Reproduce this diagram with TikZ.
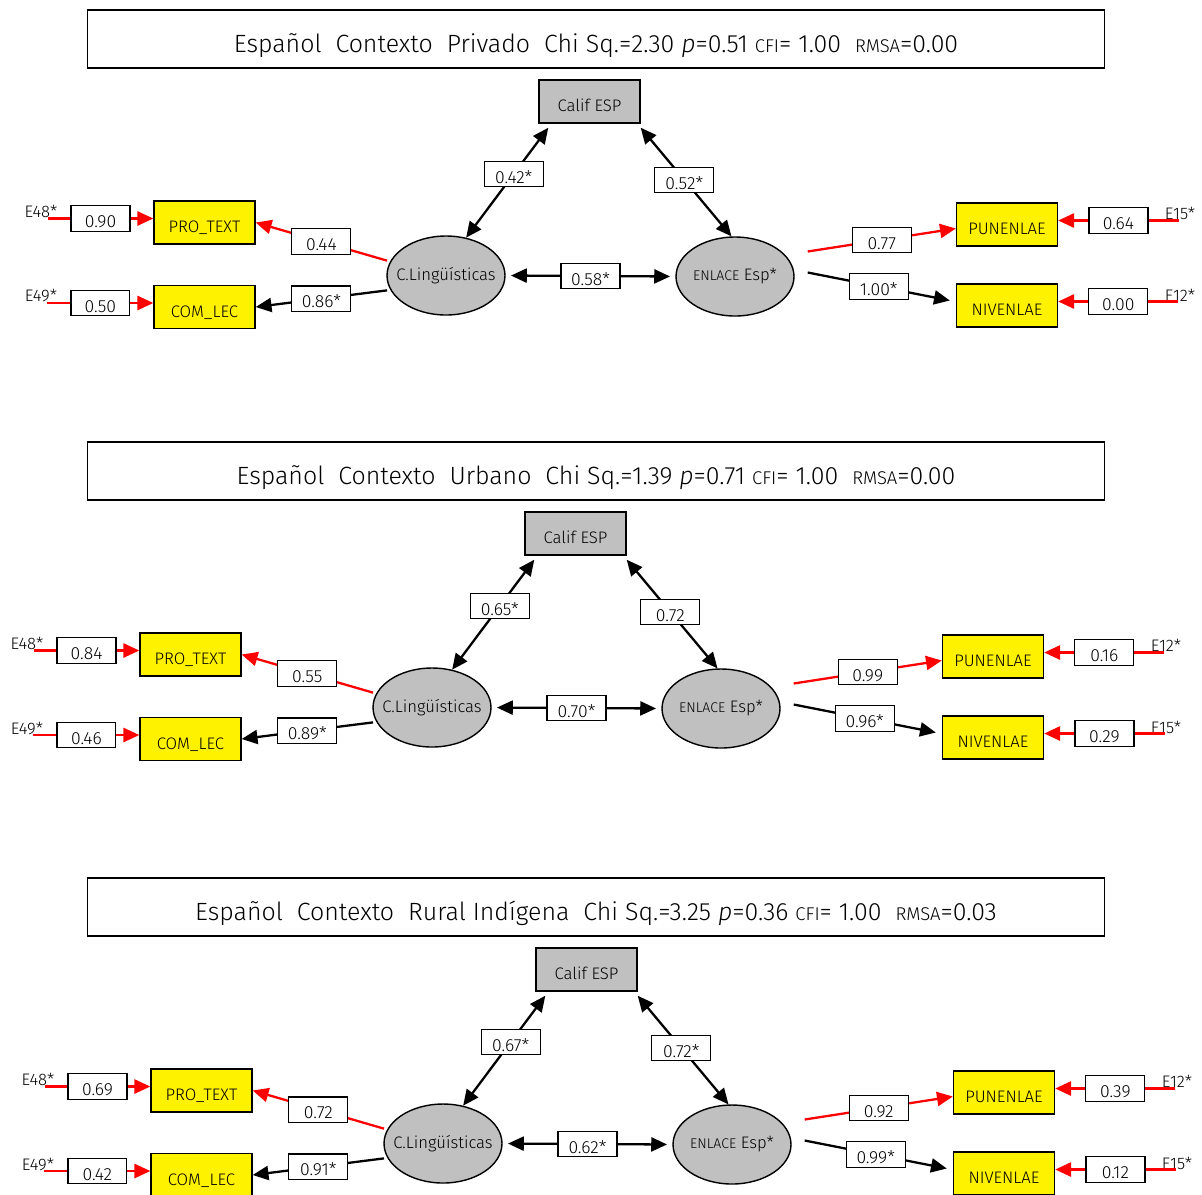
\documentclass[tikz,border=0pt]{standalone}
\usepackage{fontspec}
\setmainfont{Fira Sans}[UprightFont=* Light, ItalicFont=* Light Italic]
\usepackage{tikz}
\usetikzlibrary{shapes,arrows.meta,calc}
\definecolor{calgray}{HTML}{C0C0C0}

\begin{document}
\begin{tikzpicture}[x=0.02cm, y=-0.02cm, font=\fontsize{9.5}{11}\selectfont]
    % Define block styles
    \tikzstyle{title} = [rectangle, draw, line width=0.8pt, minimum width=20.34cm,
        minimum height=1.16cm, text height=0.56cm, text depth=0.04cm,
        font=\fontsize{14.2}{17}\selectfont]
    \tikzstyle{obs} = [rectangle, draw, fill=yellow, line width=0.8pt,
        minimum width=2.02cm, minimum height=0.86cm, text height=2.2ex, text depth=0pt]
    \tikzstyle{calif} = [obs, fill=calgray]
    \tikzstyle{latent} = [ellipse, draw, fill=calgray, line width=0.8pt,
        minimum width=2.36cm, minimum height=1.58cm, inner xsep=-8pt, inner ysep=0pt]
    \tikzstyle{coef} = [rectangle, draw=black, text=black, fill=white, line width=0.7pt,
        minimum width=1.18cm, minimum height=0.5cm, inner sep=2pt, text height=2ex,
        text depth=0pt, font=\fontsize{10}{12}\selectfont]
    \tikzstyle{line} = [draw, line width=1.3pt, -{Triangle[length=9pt,width=8pt]}]
    \tikzstyle{both} = [line, {Triangle[length=9pt,width=8pt]}-{Triangle[length=9pt,width=8pt]}]
    \tikzstyle{redline} = [line, red]
    \tikzstyle{err} = [inner sep=0pt]

    \clip (0,0) rectangle (1202,1194);
    \fill[white] (0,0) rectangle (1202,1194);

    \foreach \dx/\dy/\ctx/\chisq/\pval/\rmsa/\eA/\eB/\lPT/\lCL/\lCC/\lCE/\lLE/\lPU/\lNI/\ePU/\eNI/\nPU/\nNI in {
        0/0/Privado/2.30/0.51/0.00/0.90/0.50/0.44/0.86*/0.42*/0.52*/0.58*/0.77/1.00*/0.64/0.00/E15*/E12*,
        -14/432/Urbano/1.39/0.71/0.00/0.84/0.46/0.55/0.89*/0.65*/0.72/0.70*/0.99/0.96*/0.16/0.29/E12*/E15*,
        -3/868/Rural Indígena/3.25/0.36/0.03/0.69/0.42/0.72/0.91*/0.67*/0.72*/0.62*/0.92/0.99*/0.39/0.12/E12*/E15*}
    {
        % Title of the model
        \node [title] (head) at (596,39+\dy) {Español~~Contexto~~\ctx~~Chi Sq.=\chisq{}
            \textit{p}=\pval{} {\fontsize{10.5}{12}\selectfont CFI}= 1.00~~{\fontsize{10.5}{12}\selectfont RMSA}=\rmsa};

        \begin{scope}[shift={(\dx,\dy)}]
        % Place nodes
        \node [calif] (cal) at (589.5,101.5) {Calif ESP};
        \node [latent] (cl) at (446,275.5) {C.Lingüísticas};
        \node [latent] (en) at (735,276.5) {{\fontsize{8}{10}\selectfont ENLACE} Esp*};
        \node [obs] (pt) at (204.5,222.5) {PRO\_TEXT};
        \node [obs] (cm) at (204.5,307) {COM\_LEC};
        \node [obs] (pun) at (1007,224.5) {PUNENLAE};
        \node [obs] (niv) at (1007,305.5) {NIVENLAE};
        \node [err] (e48) at (41,211) {E48*};
        \node [err] (e49) at (41,296) {E49*};
        \node [err] (ep) at (1180,213) {\nPU};
        \node [err] (eq) at (1180,295) {\nNI};

        % Draw edges
        \path [redline] ($(e48.east |- pt.west)+(-10,-4)$) -- node[coef] {\eA} ($(pt.west)+(0,-4)$);
        \path [redline] ($(e49.east |- cm.west)+(-10,-4)$) -- node[coef] {\eB} ($(cm.west)+(0,-4)$);
        \path [redline] ($(ep.west |- pun.east)+(14,-4)$) -- node[coef] {\ePU} ($(pun.east)+(0,-4)$);
        \path [redline] ($(eq.west |- niv.east)+(14,-4)$) -- node[coef] {\eNI} ($(niv.east)+(0,-4)$);
        \path [redline] ([xshift=-2pt]cl.165) -- node[coef] {\lPT} (pt.east);
        \path [line] ([xshift=-2pt]cl.195) -- node[coef] {\lCL} (cm.east);
        \path [both] (cl.62) -- node[coef, pos=0.58] {\lCC} ($(cal.south west)+(10,4)$);
        \path [both] ($(cal.south east)+(0,4)$) -- node[coef, pos=0.48] {\lCE} (en.95);
        \path [both, shorten <=3pt, shorten >=3pt] (cl.east) -- node[coef] {\lLE} (en.west);
        \path [redline] ($(en.east)+(13,-25)$) -- node[coef] {\lPU} ($(pun.west)+(0,4)$);
        \path [line] ($(en.east)+(13,-4)$) -- node[coef] {\lNI} ($(niv.west)+(-6,-5)$);
        \end{scope}
    }
\end{tikzpicture}
\end{document}
